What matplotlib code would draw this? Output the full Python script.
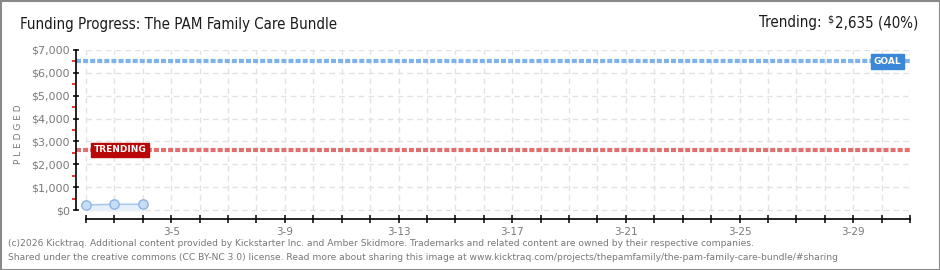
import matplotlib
matplotlib.use("Agg")
import matplotlib.pyplot as plt
from matplotlib.patches import Rectangle

# ---------------- data ----------------
title = "Funding Progress: The PAM Family Care Bundle"
trending_value = 2635
trending_pct = 40
goal_value = 6500
day_labels = [f"3-{d}" for d in range(2, 32)]          # axis days 3-2 .. 3-31
point_days = ["3-2", "3-3", "3-4"]
pledged = [220, 250, 250]
y_ticks = [0, 1000, 2000, 3000, 4000, 5000, 6000, 7000]
y_tick_labels = ["$0", "$1,000", "$2,000", "$3,000", "$4,000", "$5,000", "$6,000", "$7,000"]
x_label_days = ["3-5", "3-9", "3-13", "3-17", "3-21", "3-25", "3-29"]
footer1 = ("(c)2026 Kicktraq. Additional content provided by Kickstarter Inc. and Amber Skidmore. "
           "Trademarks and related content are owned by their respective companies.")
footer2 = ("Shared under the creative commons (CC BY-NC 3.0) license. Read more about sharing this image at "
           "www.kicktraq.com/projects/thepamfamily/the-pam-family-care-bundle/#sharing")

plt.rcParams["font.family"] = ["DejaVu Sans"]

W, H = 940, 270
fig = plt.figure(figsize=(W / 100, H / 100), dpi=100)
fig.patch.set_facecolor("white")

def fx(px):
    return px / W

def fy(py):
    return 1 - py / H

# border
fig.add_artist(Rectangle((0, 0), 1, 1, transform=fig.transFigure, fill=False,
                         edgecolor="#8a8a8a", linewidth=2.2))

# axes geometry (pixels)
left_px, right_px, top_px, bot_px = 76, 910, 50, 219
zero_px = 210
ax = fig.add_axes([fx(left_px), fy(bot_px), fx(right_px - left_px), (bot_px - top_px) / H])
n_days = len(day_labels)
day_w = (right_px - 86) / (n_days - 1)
x0 = -(86 - left_px) / day_w
ypx = (zero_px - top_px) / 7000.0
ybot = -(bot_px - zero_px) / ypx
ax.set_xlim(x0, n_days - 1)
ax.set_ylim(ybot, 7000)
ax.set_facecolor("white")

# grid (manual, dashed)
xs = list(range(n_days))
ax.vlines(xs, 0, 7000, colors="#e2e2e2", linewidth=1, linestyles=(0, (4, 3)), zorder=0)
ax.hlines(y_ticks, 0, n_days - 1, colors="#e2e2e2", linewidth=1, linestyles=(0, (4, 3)), zorder=0)

# spines
for s in ["top", "right"]:
    ax.spines[s].set_visible(False)
ax.spines["left"].set_bounds(0, 7000)
ax.spines["bottom"].set_bounds(0, n_days - 1)
ax.spines["left"].set_linewidth(1.2)
ax.spines["bottom"].set_linewidth(1.2)

# y ticks
ax.set_yticks(y_ticks)
ax.set_yticklabels(y_tick_labels, color="#7a7a7a", fontsize=8)
ax.set_yticks([v + 500 for v in y_ticks[:-1]], minor=True)
ax.tick_params(axis="y", which="major", direction="inout", length=5, width=1.1, color="black", pad=2)
ax.tick_params(axis="y", which="minor", direction="out", length=3, width=1.1, color="#dd0000")

# x ticks
ax.set_xticks(xs)
ax.set_xticklabels([lab if lab in x_label_days else "" for lab in day_labels],
                   color="#7a7a7a", fontsize=7.5)
ax.tick_params(axis="x", which="major", direction="inout", length=6, width=1.1, color="black", pad=3)

ax.set_ylabel("P L E D G E D", color="#7a7a7a", fontsize=6.5, labelpad=6)

# goal and trending lines
ax.axhline(goal_value, color="#7db3ea", linewidth=3, linestyle=(0, (1.2, 0.5)), zorder=2)
ax.axhline(trending_value, color="#e07070", linewidth=3, linestyle=(0, (1.2, 0.5)), zorder=2)

# labels on lines
ax.text(28.2, goal_value, "GOAL", ha="center", va="center", color="white", fontsize=6.5,
        fontweight="bold", zorder=5,
        bbox=dict(boxstyle="square,pad=0.3", facecolor="#3b88d8", edgecolor="#3b88d8"))
ax.text(1.2, trending_value, "TRENDING", ha="center", va="center", color="white", fontsize=6.5,
        fontweight="bold", zorder=5,
        bbox=dict(boxstyle="square,pad=0.3", facecolor="#b80808", edgecolor="#b80808"))

# pledged series
px_idx = [day_labels.index(d) for d in point_days]
ax.fill_between(px_idx, 0, pledged, color="#e6f0fb", zorder=3)
ax.plot(px_idx, pledged, color="#a9c9ee", linewidth=1.2, zorder=4)
ax.scatter(px_idx, pledged, s=45, facecolor="#c6ddf5", edgecolor="#8fb5e2", linewidth=1, zorder=5)

# title
fig.text(fx(20), fy(24), title, ha="left", va="center", fontsize=10.8, color="#1a1a1a",
         fontstretch="condensed")

# trending text (right), positioned in pixels
fig.canvas.draw()
r = fig.canvas.get_renderer()
t2 = fig.text(fx(918), fy(23), f"{trending_value:,} ({trending_pct}%)", ha="right", va="center",
              fontsize=10.8, color="#1a1a1a", fontstretch="condensed")
bb = t2.get_window_extent(r)
t_d = fig.text(bb.x0 - 1, H - 19, "$", ha="right", va="center", fontsize=7,
               color="#1a1a1a", transform=None)
bb2 = t_d.get_window_extent(r)
fig.text(bb2.x0 - 6, H - 23, "Trending:", ha="right", va="center", fontsize=10.8,
         color="#1a1a1a", fontstretch="condensed", transform=None)

# footer
fig.text(fx(8), fy(243), footer1, ha="left", va="center", fontsize=6.6, color="#777777")
fig.text(fx(8), fy(257), footer2, ha="left", va="center", fontsize=6.6, color="#777777")

fig.savefig("out.png", dpi=100, facecolor="white")
